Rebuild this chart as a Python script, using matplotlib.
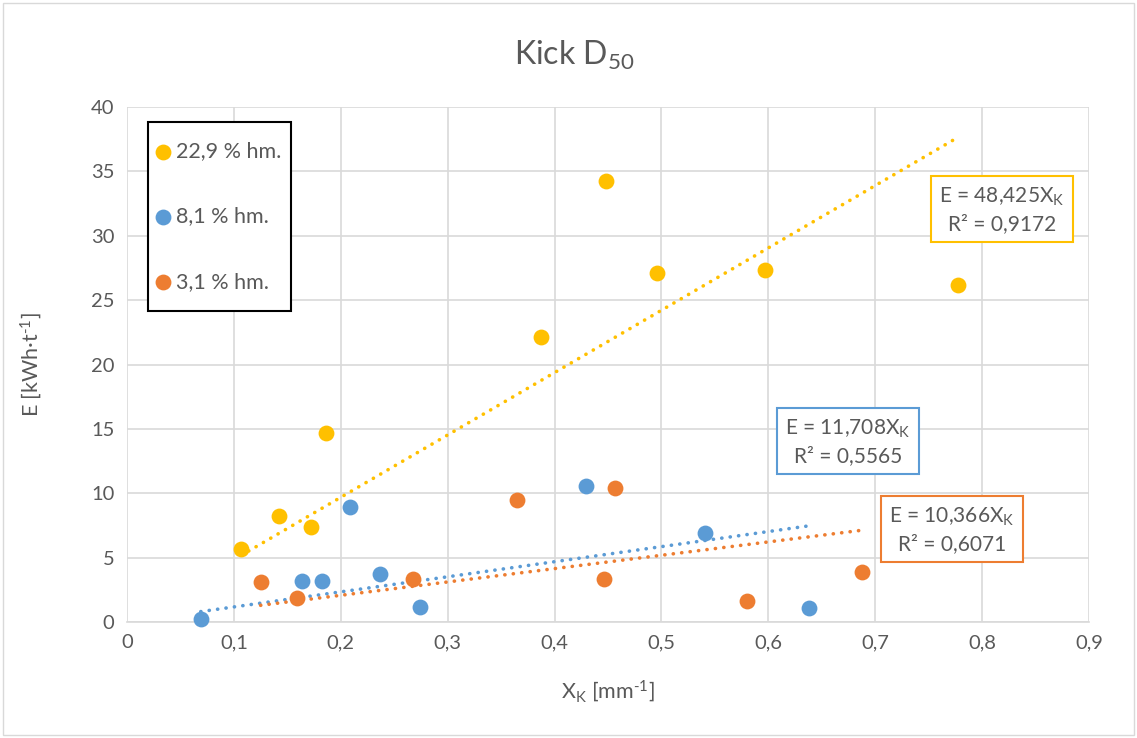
import matplotlib
matplotlib.use("Agg")
import matplotlib.pyplot as plt
import numpy as np
from matplotlib.patches import Rectangle

plt.rcParams['font.family'] = ['Lato', 'DejaVu Sans']
plt.rcParams['mathtext.fontset'] = 'custom'
plt.rcParams['mathtext.rm'] = 'Lato'
plt.rcParams['mathtext.it'] = 'Lato'
plt.rcParams['axes.unicode_minus'] = False

# ---- data ----
labels = ["22,9 % hm.", "8,1 % hm.", "3,1 % hm."]
colors = ["#FFC000", "#5B9BD5", "#ED7D31"]

x_229 = [0.107, 0.142, 0.172, 0.186, 0.387, 0.448, 0.496, 0.597, 0.777]
y_229 = [5.68, 8.23, 7.37, 14.65, 22.1, 34.25, 27.1, 27.35, 26.15]

x_81 = [0.069, 0.164, 0.182, 0.209, 0.237, 0.274, 0.429, 0.541, 0.638]
y_81 = [0.23, 3.2, 3.2, 8.9, 3.7, 1.17, 10.56, 6.95, 1.05]

x_31 = [0.125, 0.159, 0.268, 0.365, 0.446, 0.457, 0.580, 0.688]
y_31 = [3.1, 1.85, 3.34, 9.47, 3.34, 10.42, 1.63, 3.9]

slopes = [48.425, 11.708, 10.366]
r2 = ["0,9172", "0,5565", "0,6071"]
slope_txt = ["48,425", "11,708", "10,366"]

xticks = [0, 0.1, 0.2, 0.3, 0.4, 0.5, 0.6, 0.7, 0.8, 0.9]
xticklabels = ["0", "0,1", "0,2", "0,3", "0,4", "0,5", "0,6", "0,7", "0,8", "0,9"]
yticks = [0, 5, 10, 15, 20, 25, 30, 35, 40]

W, H = 1137, 738
fig = plt.figure(figsize=(W / 100, H / 100), dpi=100)
fig.patch.set_facecolor("white")
fig.add_artist(Rectangle((3 / W, 3 / H), 1 - 6 / W, 1 - 6 / H, transform=fig.transFigure,
                         fill=False, edgecolor="#d9d9d9", lw=1))

ax = fig.add_axes([127 / W, 1 - 622 / H, (1089 - 127) / W, (622 - 107) / H])
txtc = "#595959"
grid_c = "#d9d9d9"

series = [(x_229, y_229), (x_81, y_81), (x_31, y_31)]
for (xs, ys), c, lab in zip(series, colors, labels):
    ax.scatter(xs, ys, s=130, color=c, label=lab, zorder=3, linewidths=0, clip_on=False)

for (xs, ys), c, k in zip(series, colors, slopes):
    xl = np.array([min(xs), max(xs)])
    ax.plot(xl, k * xl, color=c, lw=2.6, linestyle=(0, (0.05, 2.3)),
            dash_capstyle="round", zorder=2)

ax.set_xlim(0, 0.9)
ax.set_ylim(0, 40)
ax.set_xticks(xticks)
ax.set_xticklabels(xticklabels)
ax.set_yticks(yticks)
ax.tick_params(length=0, labelsize=14.5, colors=txtc, pad=9)
ax.grid(True, color=grid_c, lw=1.2, zorder=0)
ax.set_axisbelow(True)
for s in ["top", "right", "left"]:
    ax.spines[s].set_visible(False)
ax.spines["bottom"].set_color(grid_c)
ax.spines["bottom"].set_linewidth(1.2)

ax.set_xlabel(r"X$_\mathregular{K}$ [mm$^\mathregular{\text{-}1}$]", fontsize=15.5, color=txtc, labelpad=19)
ax.set_ylabel(r"E [kWh·t$^\mathregular{\text{-}1}$]", fontsize=15.5, color=txtc, labelpad=34)
fig.text(0.505, 1 - 55 / H, r"Kick D$_\mathregular{50}$", fontsize=23, color=txtc,
         ha="center", va="center")

# legend frame
ax.add_patch(Rectangle((21 / 962, (622 - 311) / 515), (291 - 148) / 962, (311 - 122) / 515,
                       transform=ax.transAxes, fill=True, facecolor="white",
                       edgecolor="black", lw=1.5, zorder=4))
leg = ax.legend(loc="center left", bbox_to_anchor=(0.0288, (0.604 + 0.971) / 2), fontsize=15.5,
                frameon=False, labelspacing=2.1, handletextpad=0.2, borderpad=0,
                handlelength=0.8, markerscale=1.0, borderaxespad=0)
leg.set_zorder(5)
for t in leg.get_texts():
    t.set_color(txtc)

box_pos = [(0.8185, 32.0), (0.6745, 14.0), (0.7718, 7.15)]
for (bx, by), c, st, rr in zip(box_pos, colors, slope_txt, r2):
    ax.text(bx, by, "E = " + st + r"X$_\mathregular{K}$" + "\nR² = " + rr,
            ha="center", va="center", fontsize=15, color=txtc, linespacing=1.35,
            bbox=dict(boxstyle="square,pad=0.4", facecolor="white", edgecolor=c, lw=1.5),
            zorder=5)

fig.savefig("out.png", dpi=100)
